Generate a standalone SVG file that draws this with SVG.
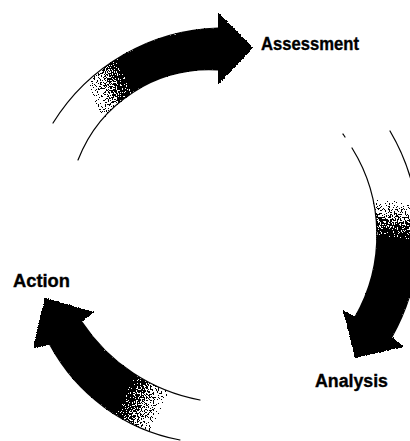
<svg xmlns="http://www.w3.org/2000/svg" width="410" height="441" viewBox="0 0 410 441">
  <style>
    .lbl { font-family: "Liberation Sans", Arial, sans-serif; font-weight: bold; font-size: 18px; fill: #000; stroke: #000; stroke-width: 0.35; }
    .edge { fill: none; stroke: #000; stroke-width: 1.2; stroke-linecap: round; }
    .body { stroke: none; filter: url(#dither); }
  </style>
  <defs>
    <filter id="dither" x="-5%" y="-5%" width="110%" height="110%" color-interpolation-filters="sRGB">
      <feTurbulence type="fractalNoise" baseFrequency="0.75" numOctaves="2" seed="4" result="noise"/>
      <feColorMatrix in="noise" type="matrix" values="0 0 0 0 0  0 0 0 0 0  0 0 0 0 0  3 0 0 0 -1" result="na"/>
      <feComposite in="SourceAlpha" in2="na" operator="arithmetic" k1="0" k2="1" k3="-0.98" k4="0.495" result="d"/>
      <feComponentTransfer in="d" result="t">
        <feFuncA type="discrete" tableValues="0 1"/>
      </feComponentTransfer>
      <feColorMatrix in="t" type="matrix" values="0 0 0 0 0  0 0 0 0 0  0 0 0 0 0  0 0 0 1 0"/>
    </filter>
    <linearGradient id="gTop" gradientUnits="userSpaceOnUse" x1="92" y1="94" x2="127" y2="80">
      <stop offset="0" stop-color="#000" stop-opacity="0"/>
      <stop offset="1" stop-color="#000" stop-opacity="1"/>
    </linearGradient>
    <linearGradient id="gRight" gradientUnits="userSpaceOnUse" x1="392" y1="201" x2="388" y2="237">
      <stop offset="0" stop-color="#000" stop-opacity="0"/>
      <stop offset="1" stop-color="#000" stop-opacity="1"/>
    </linearGradient>
    <linearGradient id="gLeft" gradientUnits="userSpaceOnUse" x1="160" y1="411" x2="125" y2="394">
      <stop offset="0" stop-color="#000" stop-opacity="0"/>
      <stop offset="1" stop-color="#000" stop-opacity="1"/>
    </linearGradient>
  </defs>

  <g id="connectors">
    <g id="arrow-action-to-assessment">
      <path class="edge" d="M53,123 A201,201 0 0 1 218,28"/>
      <path class="edge" d="M78,160 A141,141 0 0 1 218,70"/>
      <path class="body" fill="url(#gTop)" d="M53,123 A201,201 0 0 1 218,28 L218,12 L253,48 L218,85 L218,70 A141,141 0 0 0 78,160 Z"/>
    </g>
    <g id="arrow-assessment-to-analysis">
      <path class="edge" d="M390,131 A206,206 0 0 1 392,337"/>
      <path class="edge" d="M343,134 L345,137"/>
      <path class="edge" d="M352,148 A164.6,164.6 0 0 1 355,317"/>
      <path class="body" fill="url(#gRight)" d="M390,131 A206,206 0 0 1 392,337 L404,347 L355,358 L343,310 L355,317 A164.6,164.6 0 0 0 352,148 Z"/>
    </g>
    <g id="arrow-analysis-to-action">
      <path class="edge" d="M200,400 A180.5,180.5 0 0 1 82,322"/>
      <path class="edge" d="M180,440 A187.5,187.5 0 0 1 50,345"/>
      <path class="body" fill="url(#gLeft)" d="M200,400 A180.5,180.5 0 0 1 82,322 L94,312 L45,298 L33,348 L50,345 A187.5,187.5 0 0 0 180,440 Z"/>
    </g>
  </g>

  <g id="node-assessment">
    <text class="lbl" x="261" y="50" textLength="98" lengthAdjust="spacingAndGlyphs">Assessment</text>
  </g>
  <g id="node-analysis">
    <text class="lbl" x="315" y="387" textLength="73" lengthAdjust="spacingAndGlyphs">Analysis</text>
  </g>
  <g id="node-action">
    <text class="lbl" x="13" y="287" textLength="57" lengthAdjust="spacingAndGlyphs">Action</text>
  </g>
</svg>
